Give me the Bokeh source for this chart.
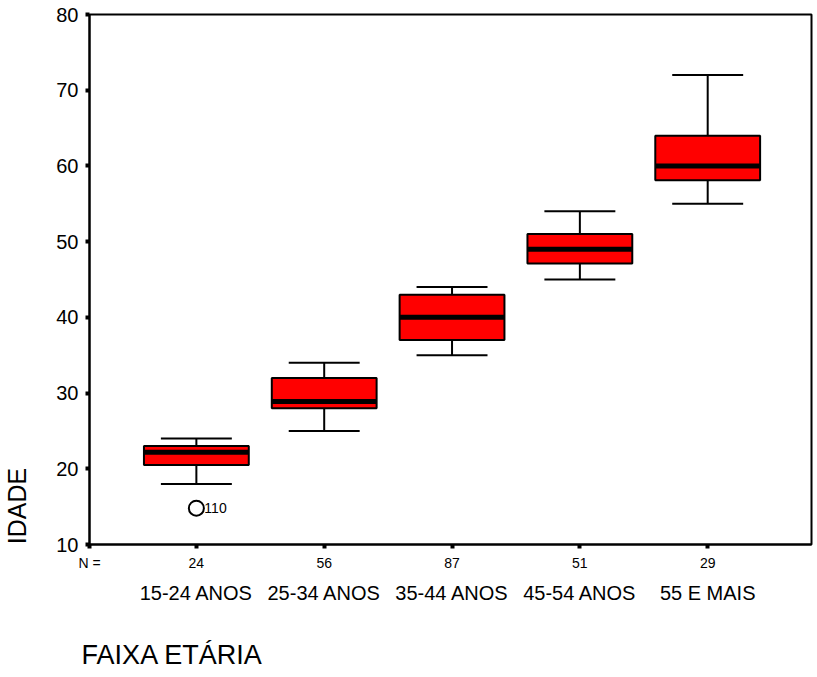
import math
from bokeh.plotting import figure
from bokeh.models import (FixedTicker, Range1d, LinearAxis, ColumnDataSource)
from bokeh.core.properties import value
from bokeh.embed import file_html
from bokeh.resources import INLINE

categories = ["15-24 ANOS", "25-34 ANOS", "35-44 ANOS", "45-54 ANOS", "55 E MAIS"]
n_counts = ["24", "56", "87", "51", "29"]
q1 = [20.5, 28, 37, 47.1, 58.1]
median = [22.2, 28.9, 40, 49, 60]
q3 = [23, 32, 43, 51, 64]
whisker_low = [18, 25, 35, 45, 55]
whisker_high = [24, 34, 44, 54, 72]
outlier_cat = [1]
outlier_val = [14.8]
outlier_lbl = ["110"]
y_ticks = [10, 20, 30, 40, 50, 60, 70, 80]
x_title = "FAIXA ETÁRIA"
y_title = "IDADE"

FONT = "Liberation Sans"
pos = list(range(1, len(categories) + 1))
box_w = 0.82
cap_w = 0.555
X0, X1 = 0.164, 5.812
X_TITLE_AT = 0.8125   # horizontal anchor of the x title (data units)
Y_TITLE_AT = 15.09    # vertical anchor of the y title (data units)

src = ColumnDataSource(dict(
    x=pos, q1=q1, q3=q3, med=median, lo=whisker_low, hi=whisker_high,
    x0=[v - box_w / 2 for v in pos], x1=[v + box_w / 2 for v in pos],
    c0=[v - cap_w / 2 for v in pos], c1=[v + cap_w / 2 for v in pos],
))

p = figure(width=817, height=677, output_backend="svg", toolbar_location=None,
           x_range=Range1d(X0, X1), y_range=Range1d(10, 80),
           min_border_left=88, min_border_right=6, min_border_top=14,
           min_border_bottom=133, x_axis_location=None, y_axis_location=None)
p.grid.visible = False
p.outline_line_color = "black"
p.outline_line_width = 2
p.background_fill_color = "white"
p.border_fill_color = "white"


def bare(axis):
    axis.axis_line_color = None
    axis.major_tick_line_color = None
    axis.minor_tick_line_color = None
    axis.major_label_text_font = FONT
    axis.major_label_text_color = "black"


# left axis
yax = LinearAxis(ticker=FixedTicker(ticks=y_ticks))
yax.axis_line_width = 2
yax.major_tick_out = 4
yax.major_tick_in = 0
yax.major_tick_line_width = 4
yax.minor_tick_line_color = None
yax.major_label_text_font = FONT
yax.major_label_text_font_size = "20px"
yax.major_label_text_color = "black"
yax.major_label_standoff = 7
p.add_layout(yax, "left")

# y title (as an unlined axis)
ytl = LinearAxis(ticker=FixedTicker(ticks=[Y_TITLE_AT]),
                 major_label_overrides={Y_TITLE_AT: y_title})
bare(ytl)
ytl.major_label_text_font_size = "25px"
ytl.major_label_orientation = "vertical"
ytl.major_label_standoff = 16
p.add_layout(ytl, "left")

# bottom axis with N counts
n_ticks = [X0] + pos
n_labels = {X0: "N ="}
n_labels.update({k: v for k, v in zip(pos, n_counts)})
xax = LinearAxis(ticker=FixedTicker(ticks=n_ticks), major_label_overrides=n_labels)
xax.axis_line_width = 2
xax.major_tick_out = 4
xax.major_tick_in = 0
xax.major_tick_line_width = 4
xax.minor_tick_line_color = None
xax.major_label_text_font = FONT
xax.major_label_text_font_size = "14px"
xax.major_label_text_color = "black"
xax.major_label_standoff = 6
p.add_layout(xax, "below")

# category axis
cax = LinearAxis(ticker=FixedTicker(ticks=pos),
                 major_label_overrides={k: v for k, v in zip(pos, categories)})
bare(cax)
cax.major_label_text_font_size = "20px"
cax.major_label_standoff = 2
p.add_layout(cax, "below")

# x title (as an unlined axis)
xtl = LinearAxis(ticker=FixedTicker(ticks=[X_TITLE_AT]),
                 major_label_overrides={X_TITLE_AT: x_title})
bare(xtl)
xtl.major_label_text_font_size = "27px"
xtl.major_label_standoff = 27
p.add_layout(xtl, "below")

# whiskers
p.segment(x0="x", y0="q3", x1="x", y1="hi", source=src, line_color="black", line_width=2)
p.segment(x0="x", y0="q1", x1="x", y1="lo", source=src, line_color="black", line_width=2)
p.segment(x0="c0", y0="hi", x1="c1", y1="hi", source=src, line_color="black", line_width=2)
p.segment(x0="c0", y0="lo", x1="c1", y1="lo", source=src, line_color="black", line_width=2)
# boxes
p.vbar(x="x", width=box_w, bottom="q1", top="q3", source=src,
       fill_color="#ff0000", line_color="black", line_width=2)
# medians
p.segment(x0="x0", y0="med", x1="x1", y1="med", source=src, line_color="black", line_width=5)

# outlier
p.scatter(outlier_cat, outlier_val, marker="circle", size=15, fill_color=None,
          line_color="black", line_width=2)
p.text(outlier_cat, outlier_val, text=outlier_lbl, x_offset=8, text_align="left",
       text_baseline="middle", text_font=value(FONT), text_font_size="14px",
       text_color="black")

open("out.html", "w").write(file_html(p, INLINE))
